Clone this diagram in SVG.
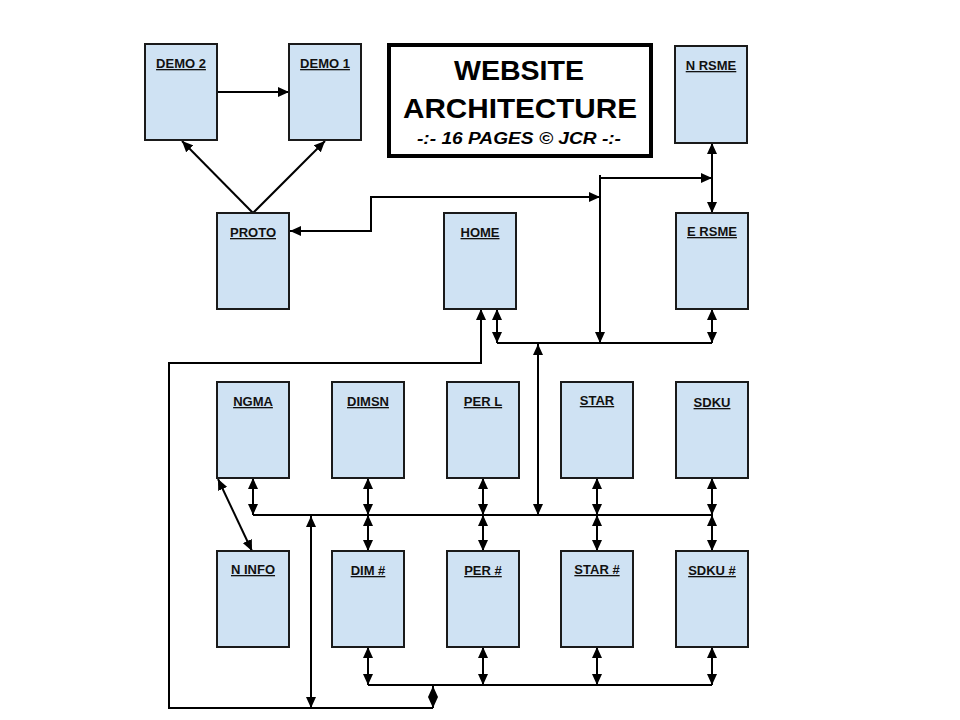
<svg xmlns="http://www.w3.org/2000/svg" width="960" height="720" viewBox="0 0 960 720">
<style>
.box{fill:#cfe2f3;stroke:#1a1a1a;stroke-width:2}
.lbl{font-family:"Liberation Sans",Arial,sans-serif;font-weight:bold;font-size:13px;fill:#111;text-anchor:middle;text-decoration:underline}
.c{fill:none;stroke:#000;stroke-width:2}
.a1{marker-end:url(#ah)}
.a2{marker-start:url(#ah);marker-end:url(#ah)}
.title{font-family:"Liberation Sans",Arial,sans-serif;font-weight:bold;fill:#000;text-anchor:middle}
</style>
<defs>
<marker id="ah" markerUnits="userSpaceOnUse" markerWidth="11" markerHeight="10" refX="11" refY="5" orient="auto-start-reverse">
<path d="M0,0 L11,5 L0,10 z" fill="#000"/>
</marker>
</defs>
<rect width="960" height="720" fill="#fff"/>

<g id="title">
<rect x="389" y="45" width="262" height="111" fill="#fff" stroke="#000" stroke-width="4"/>
<text class="title" x="519" y="80" font-size="28" textLength="130" lengthAdjust="spacingAndGlyphs">WEBSITE</text>
<text class="title" x="520" y="118" font-size="28" textLength="234" lengthAdjust="spacingAndGlyphs">ARCHITECTURE</text>
<text class="title" x="519" y="144" font-size="16" font-style="italic" textLength="204" lengthAdjust="spacingAndGlyphs">-:- 16 PAGES © JCR -:-</text>
</g>

<g id="connectors">
<path class="c a1" d="M217,92 H289"/>
<path class="c a1" d="M253,213 L182,141"/>
<path class="c a1" d="M253,213 L325,141"/>
<path class="c a2" d="M600,197 H371 V231 H290"/>
<path class="c a1" d="M600,175 V343"/>
<path class="c a1" d="M600,178 H712"/>
<path class="c a2" d="M712,143 V213"/>
<path class="c a2" d="M712,309 V343"/>
<path class="c a2" d="M497,309 V343"/>
<path class="c" d="M497,343 H712"/>
<path class="c a1" d="M433,708 H169 V363 H481 V309"/>
<path class="c a2" d="M433,686 V708"/>
<path class="c a2" d="M311,516 V708"/>
<path class="c a2" d="M538,344 V515"/>
<path class="c" d="M253,515 H712"/>
<path class="c a2" d="M253,478 V515"/>
<path class="c a2" d="M218,479 L252,551"/>
<path class="c a2" d="M368,478 V515"/>
<path class="c a2" d="M368,515 V551"/>
<path class="c a2" d="M483,478 V515"/>
<path class="c a2" d="M483,515 V551"/>
<path class="c a2" d="M597,478 V515"/>
<path class="c a2" d="M597,515 V551"/>
<path class="c a2" d="M712,478 V515"/>
<path class="c a2" d="M712,515 V551"/>
<path class="c" d="M368,685 H712"/>
<path class="c a2" d="M368,647 V685"/>
<path class="c a2" d="M483,647 V685"/>
<path class="c a2" d="M597,647 V685"/>
<path class="c a2" d="M712,647 V685"/>
</g>

<g id="demo2"><rect class="box" x="145" y="44" width="72" height="96"/><text class="lbl" x="181" y="68">DEMO 2</text></g>
<g id="demo1"><rect class="box" x="289" y="44" width="72" height="96"/><text class="lbl" x="325" y="68">DEMO 1</text></g>
<g id="proto"><rect class="box" x="217" y="213" width="72" height="96"/><text class="lbl" x="253" y="237">PROTO</text></g>
<g id="home"><rect class="box" x="444" y="213" width="72" height="96"/><text class="lbl" x="480" y="237">HOME</text></g>
<g id="nrsme"><rect class="box" x="675" y="46" width="72" height="97"/><text class="lbl" x="711" y="70">N RSME</text></g>
<g id="ersme"><rect class="box" x="676" y="213" width="72" height="96"/><text class="lbl" x="712" y="236">E RSME</text></g>
<g id="ngma"><rect class="box" x="217" y="382" width="72" height="96"/><text class="lbl" x="253" y="406">NGMA</text></g>
<g id="dimsn"><rect class="box" x="332" y="382" width="72" height="96"/><text class="lbl" x="368" y="406">DIMSN</text></g>
<g id="perl"><rect class="box" x="447" y="382" width="72" height="96"/><text class="lbl" x="483" y="406">PER L</text></g>
<g id="star"><rect class="box" x="561" y="382" width="72" height="96"/><text class="lbl" x="597" y="405">STAR</text></g>
<g id="sdku"><rect class="box" x="676" y="382" width="72" height="96"/><text class="lbl" x="712" y="407">SDKU</text></g>
<g id="ninfo"><rect class="box" x="217" y="551" width="72" height="96"/><text class="lbl" x="253" y="574">N INFO</text></g>
<g id="dimnum"><rect class="box" x="332" y="551" width="72" height="96"/><text class="lbl" x="368" y="575">DIM #</text></g>
<g id="pernum"><rect class="box" x="447" y="551" width="72" height="96"/><text class="lbl" x="483" y="575">PER #</text></g>
<g id="starnum"><rect class="box" x="561" y="551" width="72" height="96"/><text class="lbl" x="597" y="574">STAR #</text></g>
<g id="sdkunum"><rect class="box" x="676" y="551" width="72" height="96"/><text class="lbl" x="712" y="575">SDKU #</text></g>
</svg>
